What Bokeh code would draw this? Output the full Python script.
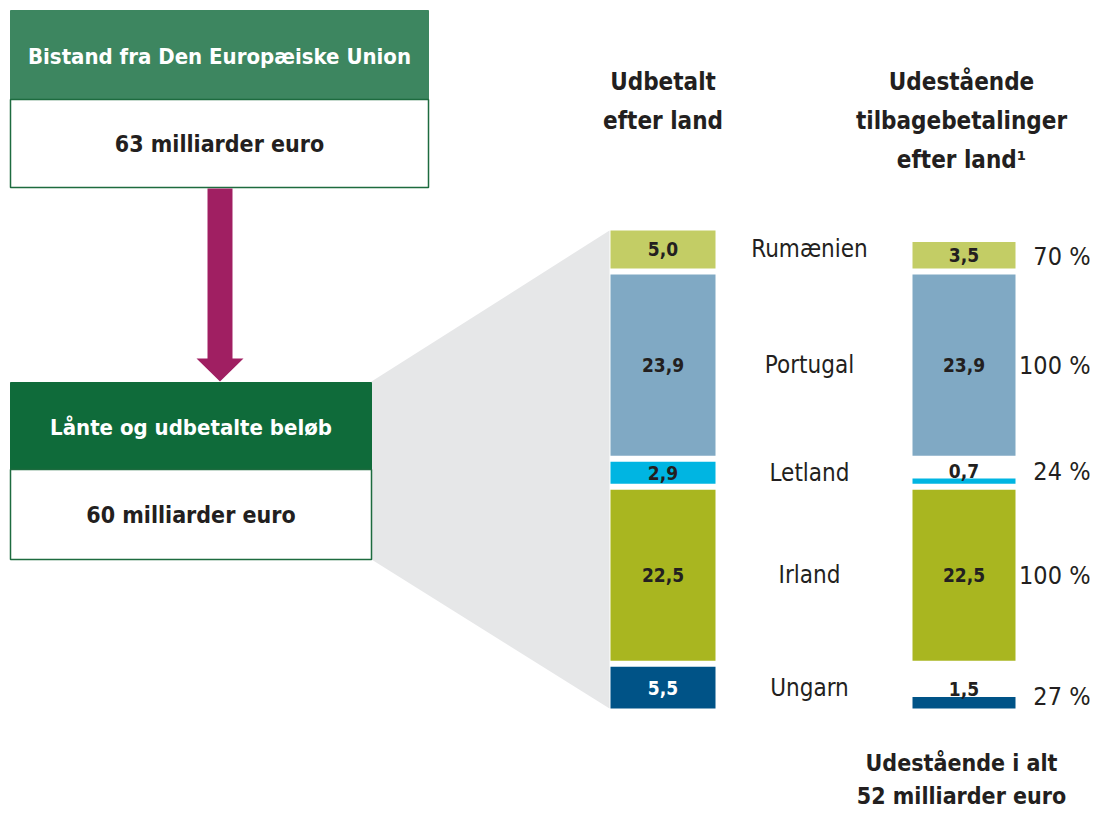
from bokeh.plotting import figure
from bokeh.models import Range1d, ColumnDataSource
from bokeh.core.properties import value
from bokeh.embed import file_html
from bokeh.resources import INLINE

# ---- data ----
countries = ["Rumænien", "Portugal", "Letland", "Irland", "Ungarn"]
disbursed = [5.0, 23.9, 2.9, 22.5, 5.5]
outstanding = [3.5, 23.9, 0.7, 22.5, 1.5]
colors = ["#c3cd65", "#80a9c4", "#00b5e2", "#a9b620", "#005387"]
label_colors = ["#231f20", "#231f20", "#231f20", "#231f20", "#ffffff"]
box1_title = "Bistand fra Den Europæiske Union"
box1_value = "63 milliarder euro"
box2_title = "Lånte og udbetalte beløb"
box2_value = "60 milliarder euro"
head_left = ["Udbetalt", "efter land"]
head_right = ["Udestående", "tilbagebetalinger", "efter land¹"]
total_lines = ["Udestående i alt", "52 milliarder euro"]

FONT = "'DejaVu Sans Condensed', 'Roboto', sans-serif"
TXT = "#231f20"

W, H = 1092, 813
p = figure(width=W, height=H, output_backend="svg", toolbar_location=None,
           x_range=Range1d(0, W), y_range=Range1d(H, 0),
           min_border=0, outline_line_color=None)
p.axis.visible = False
p.grid.visible = False
p.background_fill_color = "white"

# value scale for the stacked bars
PX = 7.59      # pixels per billion euro
TOP = 230      # pixel where the stacks start
p.extra_y_ranges = {"val": Range1d((H - TOP) / PX, (0 - TOP) / PX)}
GAP = 6 / PX

# stack geometry from data
tops, bots = [], []
c = 0.0
for v in disbursed:
    tops.append(c)
    bots.append(c + v)
    c += v + GAP
rtops = [b - o for b, o in zip(bots, outstanding)]

LX, RX, BW = 662.5, 963.5, 105

# grey funnel
p.patch([371, 609, 609, 371], [381, 230, 708, 559], fill_color="#e6e7e8", line_color=None)

# boxes
def box(x0, x1, y0, ym, y1, head_col, title, val):
    p.quad(left=[x0], right=[x1], top=[y0], bottom=[ym], fill_color=head_col, line_color=head_col, line_width=1)
    p.quad(left=[x0], right=[x1], top=[ym], bottom=[y1], fill_color="white", line_color="#1d6b3f", line_width=1.5)
    p.text(x=[(x0 + x1) / 2], y=[(y0 + ym) / 2 + 1], text=[title], text_align="center", text_baseline="middle",
           text_color="white", text_font=value(FONT), text_font_style="bold", text_font_size="22px")
    p.text(x=[(x0 + x1) / 2], y=[(ym + y1) / 2], text=[val], text_align="center", text_baseline="middle",
           text_color=TXT, text_font=value(FONT), text_font_style="bold", text_font_size="23px")

box(10, 428, 10, 99, 187, "#3d8660", box1_title, box1_value)
box(10, 371, 382, 469, 559, "#0f6b3a", box2_title, box2_value)

# arrow
p.patch([207, 232, 232, 243, 219.5, 196, 207], [188, 188, 358, 358, 381, 358, 358],
        fill_color="#a01f62", line_color=None)

# bars
src = ColumnDataSource(dict(top=tops, bot=bots, rtop=rtops, color=colors, lc=label_colors,
                            lab=[f"{v:.1f}".replace(".", ",") for v in disbursed],
                            mid=[(t + b) / 2 for t, b in zip(tops, bots)],
                            country=countries))
p.vbar(x=LX, width=BW, top="top", bottom="bot", fill_color="color", line_color=None, source=src, y_range_name="val")
p.vbar(x=RX, width=BW - 2, top="rtop", bottom="bot", fill_color="color", line_color=None, source=src, y_range_name="val")

p.text(x=LX, y="mid", text="lab", text_color="lc", text_align="center", text_baseline="middle",
       text_font=value(FONT), text_font_style="bold", text_font_size="19px", source=src, y_range_name="val")
p.text(x=809, y="mid", text="country", text_color=TXT, text_align="center", text_baseline="middle",
       text_font=value(FONT), text_font_size="24px", source=src, y_range_name="val")

# right labels: inside if large enough, else above
inside = [i for i, o in enumerate(outstanding) if o >= 3]
above = [i for i, o in enumerate(outstanding) if o < 3]
p.text(x=RX, y=[rtops[i] / 2 + bots[i] / 2 for i in inside], text=[f"{outstanding[i]:.1f}".replace(".", ",") for i in inside],
       text_color=TXT, text_align="center", text_baseline="middle", text_font=value(FONT), text_font_style="bold",
       text_font_size="19px", y_range_name="val")
p.text(x=RX, y=[rtops[i] for i in above], text=[f"{outstanding[i]:.1f}".replace(".", ",") for i in above],
       text_color=TXT, text_align="center", text_baseline="bottom", text_font=value(FONT), text_font_style="bold",
       text_font_size="19px", y_offset=-1, y_range_name="val")

# percentages
pct = [f"{round(100 * o / d)} %" for o, d in zip(outstanding, disbursed)]
big = [i for i, d in enumerate(disbursed) if d >= 10]
small = [i for i, d in enumerate(disbursed) if d < 10]
p.text(x=1090, y=[(tops[i] + bots[i]) / 2 for i in big], text=[pct[i] for i in big], text_color=TXT,
       text_align="right", text_baseline="middle", text_font=value(FONT), text_font_size="25px", y_range_name="val")
p.text(x=1090, y=[bots[i] for i in small], text=[pct[i] for i in small], text_color=TXT,
       text_align="right", text_baseline="middle", text_font=value(FONT), text_font_size="25px",
       y_offset=-12, y_range_name="val")

# headings
p.text(x=[LX] * len(head_left), y=[81 + 39 * i for i in range(len(head_left))], text=head_left, text_color=TXT,
       text_align="center", text_baseline="middle", text_font=value(FONT), text_font_style="bold",
       text_font_size="24px")
p.text(x=[961] * len(head_right), y=[81 + 39 * i for i in range(len(head_right))], text=head_right, text_color=TXT,
       text_align="center", text_baseline="middle", text_font=value(FONT), text_font_style="bold",
       text_font_size="24px")
p.text(x=[961] * len(total_lines), y=[762 + 33 * i for i in range(len(total_lines))], text=total_lines,
       text_color=TXT, text_align="center", text_baseline="middle", text_font=value(FONT),
       text_font_style="bold", text_font_size="23px")

open("out.html", "w").write(file_html(p, INLINE))
